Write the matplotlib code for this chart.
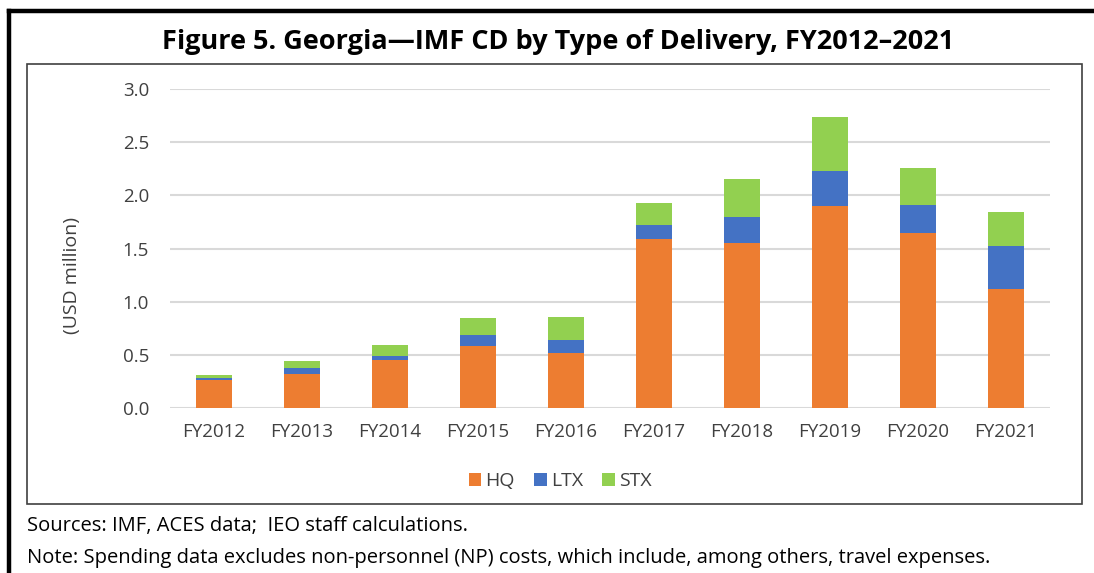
"""Georgia - IMF CD by Type of Delivery, stacked bar chart"""

import matplotlib
matplotlib.use('Agg')

import matplotlib.pyplot as plt
from matplotlib.patches import Rectangle
from matplotlib.lines import Line2D
import numpy as np

# data (USD million)
years = ['FY2012', 'FY2013', 'FY2014', 'FY2015', 'FY2016',
         'FY2017', 'FY2018', 'FY2019', 'FY2020', 'FY2021']
hq = [0.26, 0.32, 0.45, 0.58, 0.52, 1.59, 1.55, 1.90, 1.65, 1.12]
ltx = [0.02, 0.06, 0.04, 0.11, 0.12, 0.13, 0.25, 0.33, 0.26, 0.40]
stx = [0.03, 0.06, 0.10, 0.16, 0.22, 0.21, 0.35, 0.51, 0.35, 0.32]
series_names = ['HQ', 'LTX', 'STX']
colors = ['#ED7D31', '#4472C4', '#92D050']

plt.rcParams['font.family'] = ['Open Sans', 'DejaVu Sans']

W, H = 1094, 573
fig = plt.figure(figsize=(W / 100, H / 100), dpi=100)
fig.patch.set_facecolor('white')

# outer frame (top + left only) and inner chart box
fig.add_artist(Line2D([8.5 / W, 1.0], [1 - 10.5 / H, 1 - 10.5 / H], color='black', lw=3.2))
fig.add_artist(Line2D([8.5 / W, 8.5 / W], [0, 1 - 10.5 / H], color='black', lw=3.2))
fig.add_artist(Rectangle((27 / W, 1 - 504 / H), (1082 - 27) / W, (504 - 64) / H,
                         fill=False, edgecolor='#404040', lw=1.2))

fig.text(558 / W, 1 - 42 / H, 'Figure 5. Georgia\u2014IMF CD by Type of Delivery, FY2012\u20132021',
         ha='center', va='center', fontsize=19.5, fontweight='bold')

ax = fig.add_axes([170 / W, 1 - 408 / H, 880 / W, 319 / H])
x = np.arange(len(years))
bottom = np.zeros(len(years))
for name, vals, c in zip(series_names, [hq, ltx, stx], colors):
    ax.bar(x, vals, width=0.42, bottom=bottom, color=c, label=name, zorder=3)
    bottom += np.array(vals)

ax.set_xlim(-0.5, len(years) - 0.5)
ax.set_ylim(0, 3.0)
ax.set_yticks(np.arange(0, 3.01, 0.5))
ax.set_yticklabels([f'{v:.1f}' for v in np.arange(0, 3.01, 0.5)])
ax.set_xticks(x)
ax.set_xticklabels(years)
ax.tick_params(length=0, labelsize=13.5, colors='#404040')
ax.tick_params(axis='y', pad=15)
ax.tick_params(axis='x', pad=11)
ax.grid(axis='y', color='#D9D9D9', lw=1.5, zorder=0)
for s in ax.spines.values():
    s.set_visible(False)

fig.text(72 / W, 1 - 275 / H, '(USD million)', rotation=90, ha='center', va='center',
         fontsize=14, color='#404040')

ax.legend(loc='center', bbox_to_anchor=(560 / W, 1 - 481 / H), bbox_transform=fig.transFigure,
          ncol=3, frameon=False, fontsize=14, handlelength=0.65, handleheight=0.65,
          handletextpad=0.2, columnspacing=1.0, labelcolor='#404040')

fig.text(27 / W, 1 - 526 / H, 'Sources: IMF, ACES data;  IEO staff calculations.',
         ha='left', va='center', fontsize=14.5)
fig.text(27 / W, 1 - 558 / H,
         'Note: Spending data excludes non-personnel (NP) costs, which include, among others, travel expenses.',
         ha='left', va='center', fontsize=14.5)

plt.savefig('out.png', dpi=100, facecolor='white')
plt.close()
